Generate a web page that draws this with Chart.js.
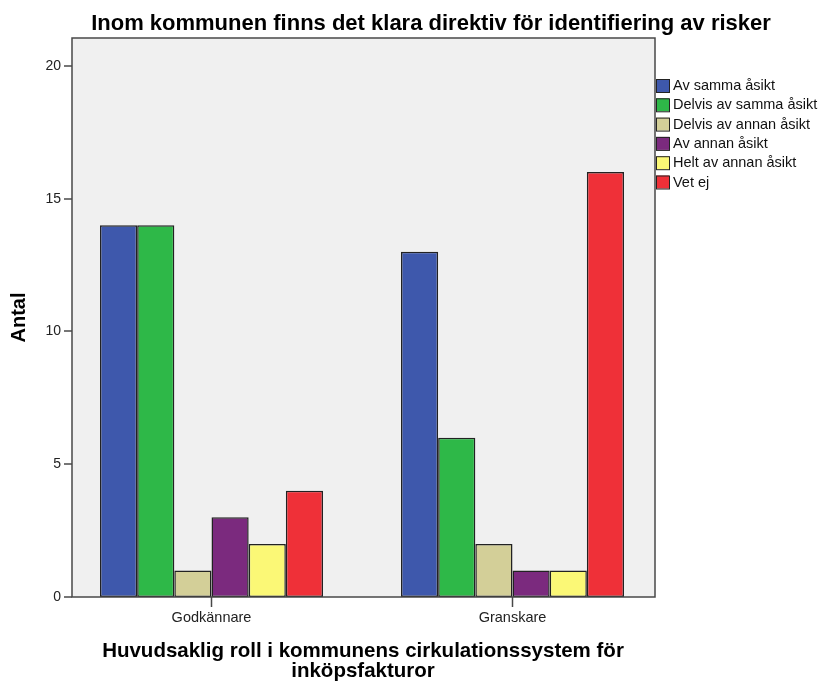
<!DOCTYPE html>
<html>
<head>
<meta charset="utf-8">
<script src="https://cdn.jsdelivr.net/npm/chart.js@4/dist/chart.umd.min.js"></script>
<style>
  html, body { margin: 0; padding: 0; background: #ffffff; }
  #wrap { width: 825px; height: 682px; }
</style>
</head>
<body>
<div id="wrap"><canvas id="c" width="825" height="682"></canvas></div>
<script>
// Roles (x categories)
const categories = ['Godkännare', 'Granskare'];

// Answer options and counts per role
const seriesNames = [
  'Av samma åsikt',
  'Delvis av samma åsikt',
  'Delvis av annan åsikt',
  'Av annan åsikt',
  'Helt av annan åsikt',
  'Vet ej'
];
const avSammaAsikt       = [14, 13];
const delvisAvSamma      = [14, 6];
const delvisAvAnnan      = [1, 2];
const avAnnanAsikt       = [3, 1];
const heltAvAnnanAsikt   = [2, 1];
const vetEj              = [4, 16];

const seriesColors = ['#3e58ac', '#2eb848', '#d3cf98', '#7b2a7e', '#fbf876', '#ef3038'];

const yTicks = [0, 5, 10, 15, 20];

const titleText = 'Inom kommunen finns det klara direktiv för identifiering av risker';
const yTitle = 'Antal';
const xTitleLines = ['Huvudsaklig roll i kommunens cirkulationssystem för', 'inköpsfakturor'];

const allValues = [avSammaAsikt, delvisAvSamma, delvisAvAnnan, avAnnanAsikt, heltAvAnnanAsikt, vetEj];

const FONT = '"Liberation Sans", Arial, sans-serif';
const FRAME = '#484848';
// visible plot frame (the category scale extends a little past it on both sides)
const FRAME_L = 72, FRAME_R = 655;

const datasets = allValues.map((vals, i) => ({
  label: seriesNames[i],
  data: vals,
  backgroundColor: seriesColors[i],
  borderColor: '#222222',
  borderWidth: 1.5,
  borderSkipped: false,
  categoryPercentage: 0.741,
  barPercentage: 1.0
}));

// Plot background, frame, value axis, titles and legend
const decor = {
  id: 'decor',
  beforeDatasetsDraw(chart) {
    const { ctx, chartArea: a } = chart;
    ctx.save();
    ctx.fillStyle = '#f0f0f0';
    ctx.fillRect(FRAME_L, a.top, FRAME_R - FRAME_L, a.bottom - a.top);
    ctx.restore();
  },
  afterDraw(chart) {
    const { ctx, chartArea: a } = chart;
    const y = chart.scales.y;
    ctx.save();
    // frame
    ctx.strokeStyle = FRAME;
    ctx.lineWidth = 1.5;
    ctx.strokeRect(FRAME_L, a.top, FRAME_R - FRAME_L, a.bottom - a.top);

    // value axis ticks and labels
    ctx.fillStyle = '#222';
    ctx.font = '14px ' + FONT;
    ctx.textAlign = 'right';
    ctx.textBaseline = 'middle';
    yTicks.forEach(v => {
      const py = Math.round(y.getPixelForValue(v));
      ctx.beginPath();
      ctx.moveTo(FRAME_L - 8, py);
      ctx.lineTo(FRAME_L, py);
      ctx.stroke();
      ctx.fillText(String(v), FRAME_L - 11, py + 0.5);
    });

    // chart title
    ctx.fillStyle = '#000';
    ctx.font = 'bold 22px ' + FONT;
    ctx.textAlign = 'center';
    ctx.textBaseline = 'alphabetic';
    ctx.fillText(titleText, 431, 30);

    // x axis title
    ctx.font = 'bold 20.5px ' + FONT;
    ctx.fillText(xTitleLines[0], 363, 657);
    ctx.fillText(xTitleLines[1], 363, 677);

    // y axis title
    ctx.save();
    ctx.translate(19.5, (a.top + a.bottom) / 2);
    ctx.rotate(-Math.PI / 2);
    ctx.font = 'bold 20px ' + FONT;
    ctx.textBaseline = 'middle';
    ctx.fillText(yTitle, 0, 0);
    ctx.restore();

    // legend
    ctx.font = '14.5px ' + FONT;
    ctx.textAlign = 'left';
    ctx.textBaseline = 'middle';
    const lx = FRAME_R + 1, ly0 = 85.5, step = 19.3;
    chart.data.datasets.forEach((ds, i) => {
      const cy = ly0 + i * step;
      ctx.fillStyle = ds.backgroundColor;
      ctx.fillRect(lx, cy - 6.5, 13, 13);
      ctx.strokeStyle = '#222';
      ctx.lineWidth = 1;
      ctx.strokeRect(lx + 0.5, cy - 6, 13, 13);
      ctx.fillStyle = '#111';
      ctx.fillText(ds.label, lx + 17, cy + 0.5);
    });
    ctx.restore();
  }
};

new Chart(document.getElementById('c'), {
  type: 'bar',
  data: { labels: categories, datasets },
  options: {
    responsive: false,
    animation: false,
    layout: { padding: { left: 61, right: 162, top: 38, bottom: 0 } },
    plugins: {
      legend: { display: false },
      title: { display: false },
      tooltip: { enabled: false }
    },
    scales: {
      x: {
        offset: true,
        grid: {
          display: true,
          drawOnChartArea: false,
          drawTicks: true,
          tickLength: 10,
          tickColor: FRAME,
          tickWidth: 1.5,
          offset: false
        },
        border: { display: false },
        ticks: { color: '#222', font: { family: FONT, size: 14.5 }, padding: 2 },
        afterFit(scale) { scale.height = 682 - 597; }
      },
      y: {
        display: false,
        min: 0,
        max: 21.05
      }
    }
  },
  plugins: [decor]
});
</script>
</body>
</html>
